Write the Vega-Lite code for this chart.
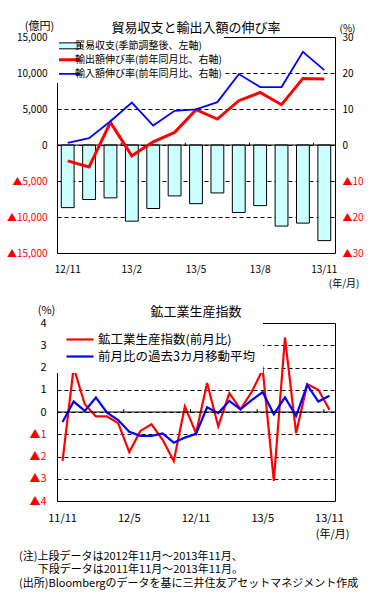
{
  "$schema": "https://vega.github.io/schema/vega-lite/v6.json",
  "background": "white",
  "padding": {"left": 5, "right": 4, "top": 19, "bottom": 4},
  "config": {
    "font": "Noto Sans CJK JP",
    "view": {"stroke": "black", "strokeWidth": 1},
    "axis": {"domain": false, "ticks": false, "labelOverlap": false, "labelColor": "black", "titleColor": "black", "titleFontWeight": "normal", "labelFont": "Noto Sans CJK JP", "titleFont": "Noto Sans CJK JP"},
    "legend": {"labelFont": "Noto Sans CJK JP", "labelColor": "black"},
    "title": {"font": "Noto Sans CJK JP", "fontWeight": "normal", "color": "black"}
  },
  "title": {
    "text": ["(注)上段データは2012年11月～2013年11月、", "\u200b\u3000\u2002\u2009下段データは2011年11月～2013年11月。", "(出所)Bloombergのデータを基に三井住友アセットマネジメント作成"],
    "orient": "bottom", "anchor": "start", "fontSize": 11, "lineHeight": 13.5, "offset": 11, "dx": 13
  },
  "resolve": {"scale": {"stroke": "independent"}, "legend": {"stroke": "independent"}},
  "datasets": {
    "bal": [
      {"m": "12/11", "series": "貿易収支(季節調整後、左軸)", "v": -8700},
      {"m": "12/12", "series": "貿易収支(季節調整後、左軸)", "v": -7570},
      {"m": "13/1", "series": "貿易収支(季節調整後、左軸)", "v": -7340},
      {"m": "13/2", "series": "貿易収支(季節調整後、左軸)", "v": -10580},
      {"m": "13/3", "series": "貿易収支(季節調整後、左軸)", "v": -8820},
      {"m": "13/4", "series": "貿易収支(季節調整後、左軸)", "v": -7070},
      {"m": "13/5", "series": "貿易収支(季節調整後、左軸)", "v": -8150},
      {"m": "13/6", "series": "貿易収支(季節調整後、左軸)", "v": -6660},
      {"m": "13/7", "series": "貿易収支(季節調整後、左軸)", "v": -9370},
      {"m": "13/8", "series": "貿易収支(季節調整後、左軸)", "v": -8420},
      {"m": "13/9", "series": "貿易収支(季節調整後、左軸)", "v": -11260},
      {"m": "13/10", "series": "貿易収支(季節調整後、左軸)", "v": -10850},
      {"m": "13/11", "series": "貿易収支(季節調整後、左軸)", "v": -13280}
    ],
    "gr": [
      {"m": "12/11", "series": "輸出額伸び率(前年同月比、右軸)", "v": -4.4},
      {"m": "12/12", "series": "輸出額伸び率(前年同月比、右軸)", "v": -6.1},
      {"m": "13/1", "series": "輸出額伸び率(前年同月比、右軸)", "v": 6.3},
      {"m": "13/2", "series": "輸出額伸び率(前年同月比、右軸)", "v": -3.0},
      {"m": "13/3", "series": "輸出額伸び率(前年同月比、右軸)", "v": 0.9},
      {"m": "13/4", "series": "輸出額伸び率(前年同月比、右軸)", "v": 3.5},
      {"m": "13/5", "series": "輸出額伸び率(前年同月比、右軸)", "v": 9.8},
      {"m": "13/6", "series": "輸出額伸び率(前年同月比、右軸)", "v": 7.2},
      {"m": "13/7", "series": "輸出額伸び率(前年同月比、右軸)", "v": 12.3},
      {"m": "13/8", "series": "輸出額伸び率(前年同月比、右軸)", "v": 14.6},
      {"m": "13/9", "series": "輸出額伸び率(前年同月比、右軸)", "v": 11.2},
      {"m": "13/10", "series": "輸出額伸び率(前年同月比、右軸)", "v": 18.5},
      {"m": "13/11", "series": "輸出額伸び率(前年同月比、右軸)", "v": 18.3},
      {"m": "12/11", "series": "輸入額伸び率(前年同月比、右軸)", "v": 0.6},
      {"m": "12/12", "series": "輸入額伸び率(前年同月比、右軸)", "v": 1.9},
      {"m": "13/1", "series": "輸入額伸び率(前年同月比、右軸)", "v": 6.6},
      {"m": "13/2", "series": "輸入額伸び率(前年同月比、右軸)", "v": 11.8},
      {"m": "13/3", "series": "輸入額伸び率(前年同月比、右軸)", "v": 5.4},
      {"m": "13/4", "series": "輸入額伸び率(前年同月比、右軸)", "v": 9.5},
      {"m": "13/5", "series": "輸入額伸び率(前年同月比、右軸)", "v": 9.9},
      {"m": "13/6", "series": "輸入額伸び率(前年同月比、右軸)", "v": 11.9},
      {"m": "13/7", "series": "輸入額伸び率(前年同月比、右軸)", "v": 19.7},
      {"m": "13/8", "series": "輸入額伸び率(前年同月比、右軸)", "v": 16.1},
      {"m": "13/9", "series": "輸入額伸び率(前年同月比、右軸)", "v": 16.1},
      {"m": "13/10", "series": "輸入額伸び率(前年同月比、右軸)", "v": 25.9},
      {"m": "13/11", "series": "輸入額伸び率(前年同月比、右軸)", "v": 20.8}
    ],
    "tk1": [{"m": "13/2"}, {"m": "13/5"}, {"m": "13/8"}, {"m": "13/11"}],
    "tk2": [{"m": "12/5"}, {"m": "12/11"}, {"m": "13/5"}, {"m": "13/11"}],
    "ip": [
      {"m": "11/11", "series": "鉱工業生産指数(前月比)", "v": -2.2},
      {"m": "11/12", "series": "鉱工業生産指数(前月比)", "v": 2.0},
      {"m": "12/1", "series": "鉱工業生産指数(前月比)", "v": 0.35},
      {"m": "12/2", "series": "鉱工業生産指数(前月比)", "v": -0.2},
      {"m": "12/3", "series": "鉱工業生産指数(前月比)", "v": -0.2},
      {"m": "12/4", "series": "鉱工業生産指数(前月比)", "v": -0.5},
      {"m": "12/5", "series": "鉱工業生産指数(前月比)", "v": -1.8},
      {"m": "12/6", "series": "鉱工業生産指数(前月比)", "v": -0.85},
      {"m": "12/7", "series": "鉱工業生産指数(前月比)", "v": -0.55},
      {"m": "12/8", "series": "鉱工業生産指数(前月比)", "v": -1.25},
      {"m": "12/9", "series": "鉱工業生産指数(前月比)", "v": -2.2},
      {"m": "12/10", "series": "鉱工業生産指数(前月比)", "v": 0.25},
      {"m": "12/11", "series": "鉱工業生産指数(前月比)", "v": -0.95},
      {"m": "12/12", "series": "鉱工業生産指数(前月比)", "v": 1.3},
      {"m": "13/1", "series": "鉱工業生産指数(前月比)", "v": -0.65},
      {"m": "13/2", "series": "鉱工業生産指数(前月比)", "v": 0.85},
      {"m": "13/3", "series": "鉱工業生産指数(前月比)", "v": 0.12},
      {"m": "13/4", "series": "鉱工業生産指数(前月比)", "v": 0.9},
      {"m": "13/5", "series": "鉱工業生産指数(前月比)", "v": 1.9},
      {"m": "13/6", "series": "鉱工業生産指数(前月比)", "v": -3.1},
      {"m": "13/7", "series": "鉱工業生産指数(前月比)", "v": 3.35},
      {"m": "13/8", "series": "鉱工業生産指数(前月比)", "v": -0.95},
      {"m": "13/9", "series": "鉱工業生産指数(前月比)", "v": 1.25},
      {"m": "13/10", "series": "鉱工業生産指数(前月比)", "v": 1.0},
      {"m": "13/11", "series": "鉱工業生産指数(前月比)", "v": 0.1},
      {"m": "11/11", "series": "前月比の過去3カ月移動平均", "v": -0.45},
      {"m": "11/12", "series": "前月比の過去3カ月移動平均", "v": 0.47},
      {"m": "12/1", "series": "前月比の過去3カ月移動平均", "v": 0.05},
      {"m": "12/2", "series": "前月比の過去3カ月移動平均", "v": 0.65},
      {"m": "12/3", "series": "前月比の過去3カ月移動平均", "v": -0.03},
      {"m": "12/4", "series": "前月比の過去3カ月移動平均", "v": -0.36},
      {"m": "12/5", "series": "前月比の過去3カ月移動平均", "v": -0.89},
      {"m": "12/6", "series": "前月比の過去3カ月移動平均", "v": -1.07},
      {"m": "12/7", "series": "前月比の過去3カ月移動平均", "v": -1.07},
      {"m": "12/8", "series": "前月比の過去3カ月移動平均", "v": -0.96},
      {"m": "12/9", "series": "前月比の過去3カ月移動平均", "v": -1.38},
      {"m": "12/10", "series": "前月比の過去3カ月移動平均", "v": -1.15},
      {"m": "12/11", "series": "前月比の過去3カ月移動平均", "v": -0.98},
      {"m": "12/12", "series": "前月比の過去3カ月移動平均", "v": 0.21},
      {"m": "13/1", "series": "前月比の過去3カ月移動平均", "v": -0.05},
      {"m": "13/2", "series": "前月比の過去3カ月移動平均", "v": 0.5},
      {"m": "13/3", "series": "前月比の過去3カ月移動平均", "v": 0.12},
      {"m": "13/4", "series": "前月比の過去3カ月移動平均", "v": 0.53},
      {"m": "13/5", "series": "前月比の過去3カ月移動平均", "v": 0.89},
      {"m": "13/6", "series": "前月比の過去3カ月移動平均", "v": -0.1},
      {"m": "13/7", "series": "前月比の過去3カ月移動平均", "v": 0.66},
      {"m": "13/8", "series": "前月比の過去3カ月移動平均", "v": -0.18},
      {"m": "13/9", "series": "前月比の過去3カ月移動平均", "v": 1.22},
      {"m": "13/10", "series": "前月比の過去3カ月移動平均", "v": 0.47},
      {"m": "13/11", "series": "前月比の過去3カ月移動平均", "v": 0.73}
    ]
  },
  "bounds": "flush",
  "spacing": 70,
  "vconcat": [
    {
      "width": 278,
      "height": 216,
      "title": {"text": "貿易収支と輸出入額の伸び率", "fontSize": 13, "offset": -15, "anchor": "middle"},
      "layer": [
        {
          "layer": [
            {
              "data": {"name": "bal"},
              "mark": {"type": "bar", "fill": "#CCFFFF", "width": {"band": 0.6}},
              "encoding": {
                "x": {"field": "m", "type": "ordinal",
                  "scale": {"type": "band", "domain": ["12/11","12/12","13/1","13/2","13/3","13/4","13/5","13/6","13/7","13/8","13/9","13/10","13/11"], "paddingInner": 0, "paddingOuter": 0},
                  "axis": {"values": ["12/11","13/2","13/5","13/8","13/11"], "labelAngle": 0, "labelFontSize": 10, "labelPadding": 11, "labelOverlap": false, "title": "(年/月)", "titleFontSize": 10, "titleAlign": "right", "titleX": 302, "titleY": 30, "titleBaseline": "middle", "grid": false}},
                "y": {"field": "v", "type": "quantitative",
                  "scale": {"domain": [-15000, 15000], "nice": false},
                  "axis": {"orient": "left", "values": [-15000,-10000,-5000,0,5000,10000,15000], "labelOverlap": false,
                    "labelExpr": "datum.value < 0 ? '▲' + format(-datum.value, ',') : format(datum.value, ',')",
                    "labelColor": {"condition": {"test": "datum.value < 0", "value": "#FF0000"}, "value": "black"},
                    "labelFontSize": 10, "labelPadding": 10,
                    "grid": true, "gridColor": "black", "gridDash": [4, 3], "gridOpacity": 1,
                    "title": "(億円)", "titleAngle": 0, "titleX": -18, "titleY": -11, "titleAlign": "center", "titleBaseline": "middle", "titleFontSize": 11}},
                "stroke": {"field": "series", "type": "nominal",
                  "scale": {"domain": ["貿易収支(季節調整後、左軸)", "輸出額伸び率(前年同月比、右軸)", "輸入額伸び率(前年同月比、右軸)"], "range": ["black", "#FF0000", "#0000FF"]},
                  "legend": {"title": null, "orient": "top-left", "offset": 0, "padding": 2, "fillColor": "white", "strokeColor": null,
                    "labelFontSize": 10, "labelLimit": 300, "labelOffset": 3, "symbolOffset": 3, "rowPadding": 0, "clipHeight": 13.7,
                    "symbolSize": 729, "symbolOpacity": 1,
                    "symbolType": {"expr": "datum.value === '貿易収支(季節調整後、左軸)' ? 'M-1,-0.22H1V0.22H-1Z' : 'stroke'"},
                    "symbolStrokeWidth": {"expr": "datum.value === '輸出額伸び率(前年同月比、右軸)' ? 3 : datum.value === '輸入額伸び率(前年同月比、右軸)' ? 1.8 : 1"}}}
              }
            },
            {
              "data": {"values": [{}]},
              "mark": {"type": "rule", "color": "black", "strokeWidth": 1},
              "encoding": {"y": {"datum": 0, "type": "quantitative",
                  "scale": {"domain": [-15000, 15000], "nice": false},
                  "axis": {"orient": "left", "values": [-15000,-10000,-5000,0,5000,10000,15000], "labelOverlap": false,
                    "labelExpr": "datum.value < 0 ? '▲' + format(-datum.value, ',') : format(datum.value, ',')",
                    "labelColor": {"condition": {"test": "datum.value < 0", "value": "#FF0000"}, "value": "black"},
                    "labelFontSize": 10, "labelPadding": 10,
                    "grid": true, "gridColor": "black", "gridDash": [4, 3], "gridOpacity": 1,
                    "title": "(億円)", "titleAngle": 0, "titleX": -18, "titleY": -11, "titleAlign": "center", "titleBaseline": "middle", "titleFontSize": 11}}}
            },
            {
              "data": {"name": "tk1"},
              "mark": {"type": "rule", "color": "black", "strokeWidth": 1},
              "encoding": {
                "x": {"field": "m", "type": "ordinal", "bandPosition": 0,
                  "scale": {"type": "band", "domain": ["12/11","12/12","13/1","13/2","13/3","13/4","13/5","13/6","13/7","13/8","13/9","13/10","13/11"], "paddingInner": 0, "paddingOuter": 0},
                  "axis": {"values": ["12/11","13/2","13/5","13/8","13/11"], "labelAngle": 0, "labelFontSize": 10, "labelPadding": 11, "labelOverlap": false, "title": "(年/月)", "titleFontSize": 10, "titleAlign": "right", "titleX": 302, "titleY": 30, "titleBaseline": "middle", "grid": false}},
                "y": {"datum": 0, "type": "quantitative",
                  "scale": {"domain": [-15000, 15000], "nice": false},
                  "axis": {"orient": "left", "values": [-15000,-10000,-5000,0,5000,10000,15000], "labelOverlap": false,
                    "labelExpr": "datum.value < 0 ? '▲' + format(-datum.value, ',') : format(datum.value, ',')",
                    "labelColor": {"condition": {"test": "datum.value < 0", "value": "#FF0000"}, "value": "black"},
                    "labelFontSize": 10, "labelPadding": 10,
                    "grid": true, "gridColor": "black", "gridDash": [4, 3], "gridOpacity": 1,
                    "title": "(億円)", "titleAngle": 0, "titleX": -18, "titleY": -11, "titleAlign": "center", "titleBaseline": "middle", "titleFontSize": 11}},
                "y2": {"datum": 320}
              }
            }
          ]
        },
        {
          "data": {"name": "gr"},
          "mark": {"type": "line"},
          "encoding": {
            "x": {"field": "m", "type": "ordinal",
              "scale": {"type": "band", "domain": ["12/11","12/12","13/1","13/2","13/3","13/4","13/5","13/6","13/7","13/8","13/9","13/10","13/11"], "paddingInner": 0, "paddingOuter": 0},
              "axis": {"values": ["12/11","13/2","13/5","13/8","13/11"], "labelAngle": 0, "labelFontSize": 10, "labelPadding": 11, "labelOverlap": false, "title": "(年/月)", "titleFontSize": 10, "titleAlign": "right", "titleX": 302, "titleY": 30, "titleBaseline": "middle", "grid": false}},
            "y": {"field": "v", "type": "quantitative",
              "scale": {"domain": [-30, 30], "nice": false},
              "axis": {"orient": "right", "values": [-30,-20,-10,0,10,20,30], "labelOverlap": false,
                "labelExpr": "datum.value < 0 ? '▲' + (-datum.value) : '' + datum.value",
                "labelColor": {"condition": {"test": "datum.value < 0", "value": "#FF0000"}, "value": "black"},
                "labelFontSize": 10, "labelPadding": 7, "grid": false,
                "title": "(%)", "titleAngle": 0, "titleX": 12, "titleY": -9, "titleAlign": "center", "titleBaseline": "middle", "titleFontSize": 10}},
            "stroke": {"field": "series", "type": "nominal",
              "scale": {"domain": ["貿易収支(季節調整後、左軸)", "輸出額伸び率(前年同月比、右軸)", "輸入額伸び率(前年同月比、右軸)"], "range": ["black", "#FF0000", "#0000FF"]},
              "legend": {"title": null, "orient": "top-left", "offset": 0, "padding": 2, "fillColor": "white", "strokeColor": null,
                "labelFontSize": 10, "labelLimit": 300, "labelOffset": 3, "symbolOffset": 3, "rowPadding": 0, "clipHeight": 13.7,
                "symbolSize": 729, "symbolOpacity": 1,
                "symbolType": {"expr": "datum.value === '貿易収支(季節調整後、左軸)' ? 'M-1,-0.22H1V0.22H-1Z' : 'stroke'"},
                "symbolStrokeWidth": {"expr": "datum.value === '輸出額伸び率(前年同月比、右軸)' ? 3 : datum.value === '輸入額伸び率(前年同月比、右軸)' ? 1.8 : 1"}}},
            "strokeWidth": {"field": "series", "type": "nominal",
              "scale": {"type": "point", "domain": ["輸出額伸び率(前年同月比、右軸)", "輸入額伸び率(前年同月比、右軸)"], "range": [3, 1.8], "padding": 0},
              "legend": null}
          }
        }
      ],
      "resolve": {"scale": {"y": "independent"}}
    },
    {
      "width": 278,
      "height": 178,
      "title": {"text": "鉱工業生産指数", "fontSize": 13, "offset": -15, "anchor": "middle"},
      "layer": [
        {
          "data": {"name": "ip"},
          "mark": {"type": "line", "strokeWidth": 2.2},
          "encoding": {
            "x": {"field": "m", "type": "ordinal",
              "scale": {"type": "band", "domain": ["11/11","11/12","12/1","12/2","12/3","12/4","12/5","12/6","12/7","12/8","12/9","12/10","12/11","12/12","13/1","13/2","13/3","13/4","13/5","13/6","13/7","13/8","13/9","13/10","13/11"], "paddingInner": 0, "paddingOuter": 0},
              "axis": {"values": ["11/11","12/5","12/11","13/5","13/11"], "labelAngle": 0, "labelFontSize": 11, "labelPadding": 11, "labelOverlap": false, "title": "(年/月)", "titleFontSize": 11, "titleAlign": "right", "titleX": 292, "titleY": 33, "titleBaseline": "middle", "grid": false}},
            "y": {"field": "v", "type": "quantitative",
              "scale": {"domain": [-4, 4], "nice": false},
              "axis": {"values": [-4,-3,-2,-1,0,1,2,3,4], "labelOverlap": false,
                "labelExpr": "datum.value < 0 ? '▲' + (-datum.value) : '' + datum.value",
                "labelColor": {"condition": {"test": "datum.value < 0", "value": "#FF0000"}, "value": "black"},
                "labelFontSize": 11, "labelPadding": 11,
                "grid": true, "gridColor": "black", "gridDash": [4, 3], "gridOpacity": 1,
                "title": "(%)", "titleAngle": 0, "titleX": -11, "titleY": -13, "titleAlign": "center", "titleBaseline": "middle", "titleFontSize": 11}},
            "stroke": {"field": "series", "type": "nominal",
              "scale": {"domain": ["鉱工業生産指数(前月比)", "前月比の過去3カ月移動平均"], "range": ["#FF0000", "#0000FF"]},
              "legend": {"title": null, "orient": "top-left", "offset": 0, "padding": 8, "fillColor": "white", "strokeColor": null,
                "labelFontSize": 12.5, "labelLimit": 300, "labelOffset": 3, "symbolOffset": 0, "rowPadding": 0, "clipHeight": 17,
                "symbolSize": 729, "symbolType": "stroke", "symbolStrokeWidth": 2.2}}
          }
        },
        {
          "data": {"values": [{}]},
          "mark": {"type": "rule", "color": "black", "strokeWidth": 1},
          "encoding": {"y": {"datum": 0, "type": "quantitative",
              "scale": {"domain": [-4, 4], "nice": false},
              "axis": {"values": [-4,-3,-2,-1,0,1,2,3,4], "labelOverlap": false,
                "labelExpr": "datum.value < 0 ? '▲' + (-datum.value) : '' + datum.value",
                "labelColor": {"condition": {"test": "datum.value < 0", "value": "#FF0000"}, "value": "black"},
                "labelFontSize": 11, "labelPadding": 11,
                "grid": true, "gridColor": "black", "gridDash": [4, 3], "gridOpacity": 1,
                "title": "(%)", "titleAngle": 0, "titleX": -11, "titleY": -13, "titleAlign": "center", "titleBaseline": "middle", "titleFontSize": 11}}}
        },
        {
          "data": {"name": "tk2"},
          "mark": {"type": "rule", "color": "black", "strokeWidth": 1},
          "encoding": {
            "x": {"field": "m", "type": "ordinal", "bandPosition": 0,
              "scale": {"type": "band", "domain": ["11/11","11/12","12/1","12/2","12/3","12/4","12/5","12/6","12/7","12/8","12/9","12/10","12/11","12/12","13/1","13/2","13/3","13/4","13/5","13/6","13/7","13/8","13/9","13/10","13/11"], "paddingInner": 0, "paddingOuter": 0},
              "axis": {"values": ["11/11","12/5","12/11","13/5","13/11"], "labelAngle": 0, "labelFontSize": 11, "labelPadding": 11, "labelOverlap": false, "title": "(年/月)", "titleFontSize": 11, "titleAlign": "right", "titleX": 292, "titleY": 33, "titleBaseline": "middle", "grid": false}},
            "y": {"datum": 0, "type": "quantitative",
              "scale": {"domain": [-4, 4], "nice": false},
              "axis": {"values": [-4,-3,-2,-1,0,1,2,3,4], "labelOverlap": false,
                "labelExpr": "datum.value < 0 ? '▲' + (-datum.value) : '' + datum.value",
                "labelColor": {"condition": {"test": "datum.value < 0", "value": "#FF0000"}, "value": "black"},
                "labelFontSize": 11, "labelPadding": 11,
                "grid": true, "gridColor": "black", "gridDash": [4, 3], "gridOpacity": 1,
                "title": "(%)", "titleAngle": 0, "titleX": -11, "titleY": -13, "titleAlign": "center", "titleBaseline": "middle", "titleFontSize": 11}},
            "y2": {"datum": 0.13}
          }
        }
      ]
    }
  ]
}
